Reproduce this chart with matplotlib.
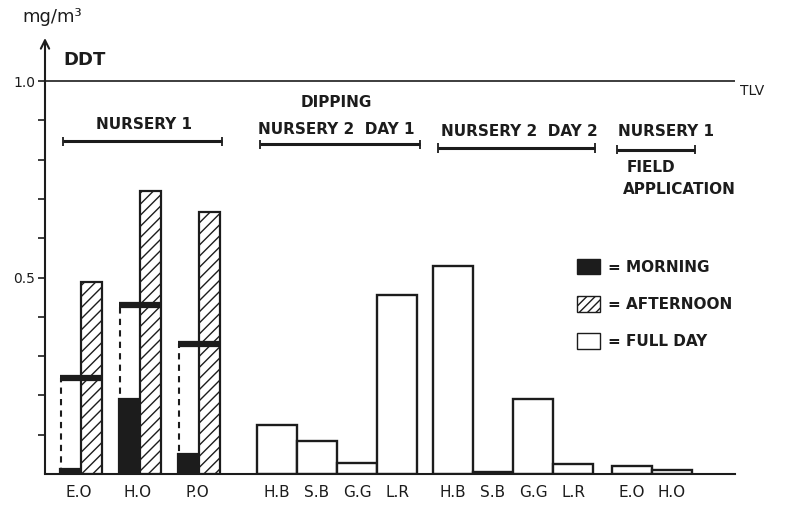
import numpy as np
import matplotlib
matplotlib.use("Agg")
import matplotlib.pyplot as plt
from matplotlib.patches import Patch

# DDT air concentrations, mg/m3
sites_n1 = ["E.O", "H.O", "P.O"]
morning_n1 = [0.013, 0.19, 0.05]
afternoon_n1 = [0.49, 0.72, 0.667]
fullday_n1 = [0.245, 0.43, 0.332]

sites_n2_day1 = ["H.B", "S.B", "G.G", "L.R"]
fullday_n2_day1 = [0.125, 0.085, 0.028, 0.456]

sites_n2_day2 = ["H.B", "S.B", "G.G", "L.R"]
fullday_n2_day2 = [0.53, 0.006, 0.19, 0.025]

sites_field = ["E.O", "H.O"]
fullday_field = [0.02, 0.01]

tlv = 1.0
y_ticks = [0.1, 0.2, 0.3, 0.4, 0.5, 0.6, 0.7, 0.8, 0.9, 1.0]
y_ticklabels = ["", "", "", "", "0.5", "", "", "", "", "1.0"]

INK = "#1c1c1c"
plt.rcParams["hatch.linewidth"] = 1.0
plt.rcParams["font.family"] = ["DejaVu Sans"]

fig = plt.figure(figsize=(7.89, 5.12), dpi=100)
ax = fig.add_axes([45 / 789, 38 / 512, 690 / 789, 436 / 512])
ax.set_xlim(0, 690)
ax.set_ylim(0, 1.11)

# Nursery 1 dipping: morning / afternoon pairs with full-day level
pair_w = 21
pair_left = [15 + 59 * i for i in range(len(sites_n1))]
for x0, m, a, f in zip(pair_left, morning_n1, afternoon_n1, fullday_n1):
    ax.bar(x0, m, width=pair_w, align="edge", color=INK, edgecolor=INK, lw=1.6)
    ax.bar(x0 + pair_w, a, width=pair_w, align="edge", facecolor="white",
           edgecolor=INK, hatch="///", lw=1.6)
    ax.vlines(x0 + 1, 0, f, colors=INK, linestyles=(0, (3, 2.5)), lw=1.5)
    ax.hlines(f, x0, x0 + 2 * pair_w, colors=INK, lw=4.5)
centres_n1 = [x0 + pair_w - 2 for x0 in pair_left]


def open_bars(start, values):
    w = 40
    lefts = [start + w * i for i in range(len(values))]
    ax.bar(lefts, values, width=w, align="edge", facecolor="white",
           edgecolor=INK, lw=1.7)
    return [x + w / 2 for x in lefts]


centres_d1 = open_bars(212, fullday_n2_day1)
centres_d2 = open_bars(388, fullday_n2_day2)
centres_f = open_bars(567, fullday_field)

ax.set_xticks(centres_n1 + centres_d1 + centres_d2 + centres_f)
ax.set_xticklabels(sites_n1 + sites_n2_day1 + sites_n2_day2 + sites_field,
                   fontsize=11, color=INK)
ax.tick_params(axis="x", length=0, pad=8)

ax.set_yticks(y_ticks)
ax.set_yticklabels(y_ticklabels, fontsize=10, color=INK)
ax.tick_params(axis="y", direction="out", length=5, width=1.2, colors=INK, pad=2)

for s in ("top", "right", "left"):
    ax.spines[s].set_visible(False)
ax.spines["bottom"].set_linewidth(1.5)
ax.spines["bottom"].set_color(INK)

# vertical axis with arrow head
ax.annotate("", xy=(0, 1.11), xytext=(0, 0), xycoords="data",
            arrowprops=dict(arrowstyle="->,head_length=0.6,head_width=0.3",
                            lw=1.5, color=INK, shrinkA=0, shrinkB=0),
            annotation_clip=False)

# threshold limit value
ax.hlines(tlv, 0, 690, colors=INK, lw=1.2)
ax.text(695, tlv - 0.025, "TLV", fontsize=10, color=INK, va="center", ha="left")

# group headings with bracket lines
bold = dict(fontsize=11, fontweight="bold", color=INK, va="center")
ax.text(98.5, 0.89, "NURSERY 1", ha="center", **bold)
ax.text(291.7, 0.945, "DIPPING", ha="center", **bold)
ax.text(291, 0.877, "NURSERY 2  DAY 1", ha="center", **bold)
ax.text(474, 0.873, "NURSERY 2  DAY 2", ha="center", **bold)
ax.text(621, 0.873, "NURSERY 1", ha="center", **bold)
ax.text(581.7, 0.780, "FIELD", ha="left", **bold)
ax.text(578, 0.724, "APPLICATION", ha="left", **bold)

for y, x0, x1 in [(0.847, 18, 177), (0.839, 215, 375),
                  (0.830, 393, 550), (0.826, 572, 650)]:
    ax.hlines(y, x0, x1, colors=INK, lw=2.2)
    ax.vlines([x0, x1], y - 0.012, y + 0.012, colors=INK, lw=1.3)

fig.text(52 / 789, 1 - 17 / 512, "mg/m³", fontsize=13, color=INK,
         ha="center", va="center")
fig.text(63 / 789, 1 - 60 / 512, "DDT", fontsize=13, fontweight="bold",
         color=INK, ha="left", va="center")

handles = [Patch(facecolor=INK, edgecolor=INK),
           Patch(facecolor="white", edgecolor=INK, hatch="////"),
           Patch(facecolor="white", edgecolor=INK)]
labels = ["= MORNING", "= AFTERNOON", "= FULL DAY"]
leg = fig.legend(handles, labels, loc="upper left",
                 bbox_to_anchor=(569 / 789, 1 - 251 / 512),
                 bbox_transform=fig.transFigure, frameon=False,
                 borderpad=0, handlelength=1.55, handleheight=1.2,
                 handletextpad=0.5, labelspacing=1.4,
                 prop=dict(size=11, weight="bold"))
for t in leg.get_texts():
    t.set_color(INK)

fig.savefig("out.png", dpi=100, facecolor="white")
